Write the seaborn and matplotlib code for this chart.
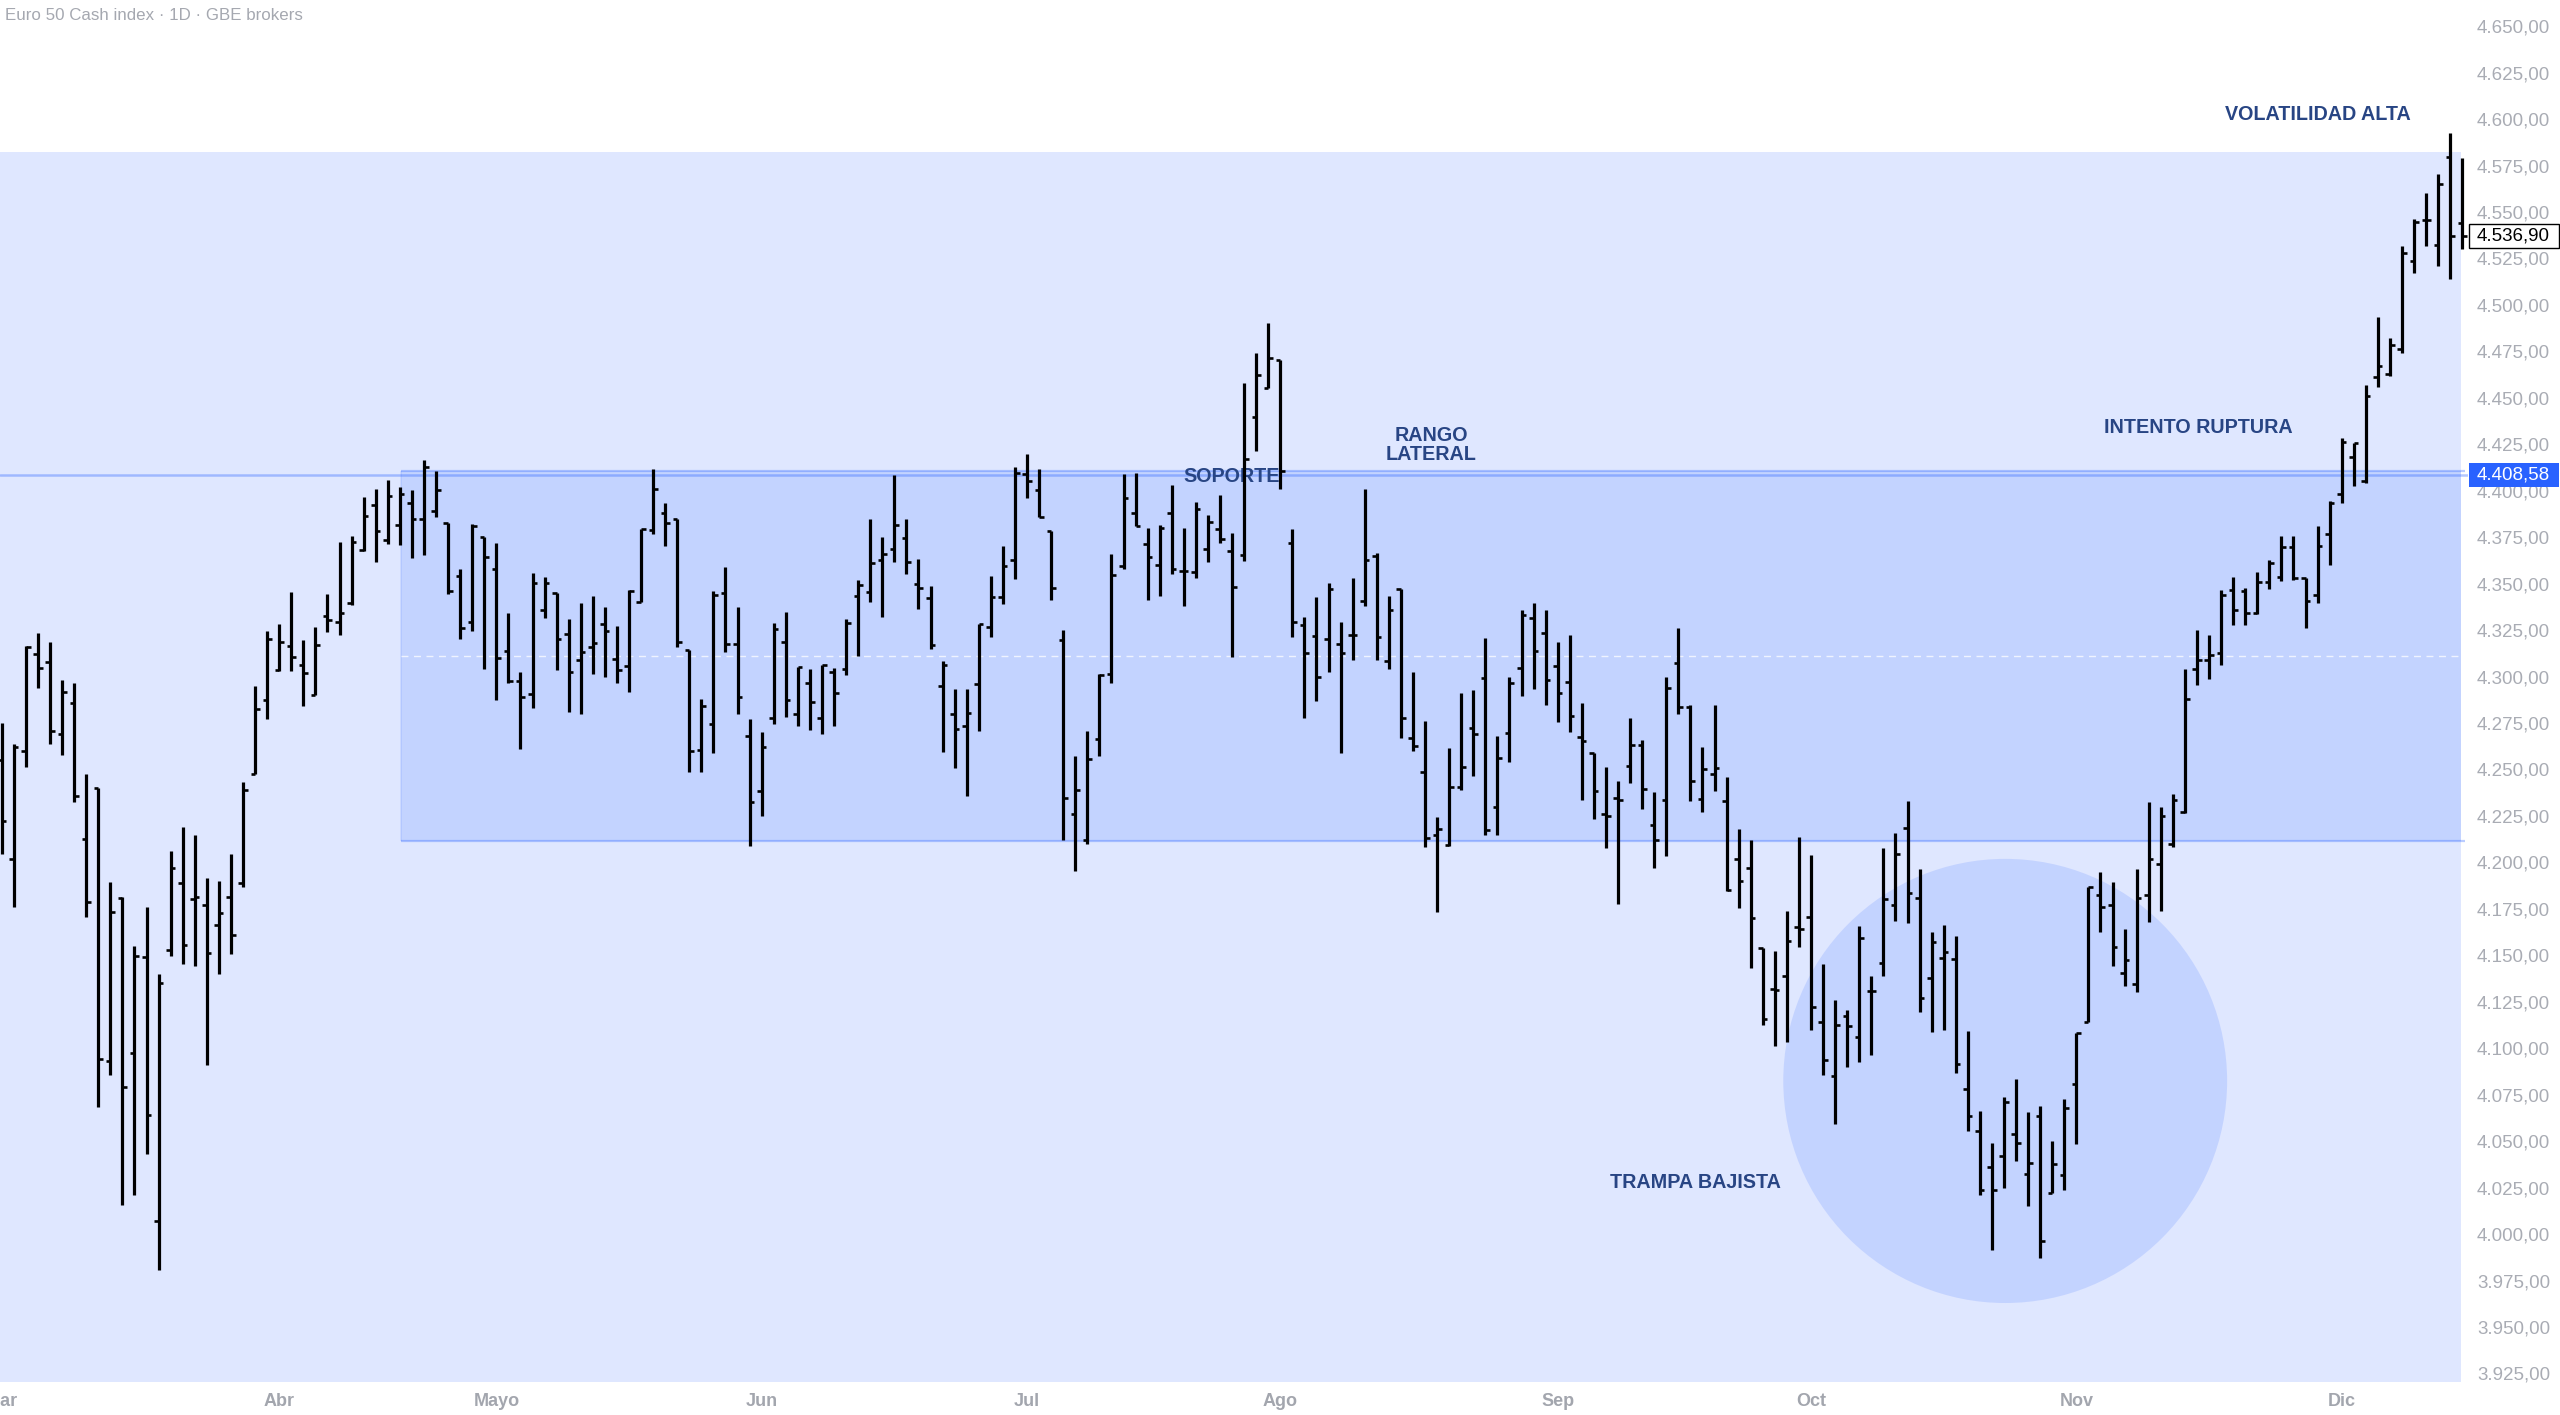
#!/usr/bin/env python3
# -*- coding: utf-8 -*-

"""
Gráfico de barras OHLC del Euro 50 (diario) con zonas de rango lateral.
"""

import numpy as np
import pandas as pd
import matplotlib
matplotlib.use("Agg")
import matplotlib.pyplot as plt
import matplotlib.transforms as mtransforms
from matplotlib.patches import Rectangle, Ellipse
import seaborn as sns

# Datos diarios (lectura aproximada del gráfico)
START = "2023-03-01"
END = "2023-12-15"
HOLIDAYS = ["2023-04-07", "2023-04-10", "2023-05-01"]
MONTHS = ["Mar", "Abr", "Mayo", "Jun", "Jul", "Ago", "Sep", "Oct", "Nov", "Dic"]

OPEN = [
    4255.0, 4201.9, 4260.0, 4312.4, 4308.1, 4269.1, 4286.0, 4212.5, 4240.3, 4093.3,
    4180.8, 4097.6, 4149.0, 4007.1, 4152.9, 4188.9, 4180.3, 4177.1, 4166.3, 4181.5,
    4189.1, 4247.7, 4287.3, 4303.6, 4316.3, 4306.1, 4290.1, 4332.6, 4329.5, 4339.4,
    4368.0, 4392.2, 4373.6, 4381.8, 4393.3, 4384.9, 4389.3, 4382.9, 4354.1, 4329.5,
    4374.9, 4357.7, 4313.8, 4297.8, 4290.6, 4335.6, 4345.1, 4322.7, 4308.9, 4316.1,
    4328.3, 4309.6, 4305.7, 4340.3, 4378.9, 4388.2, 4385.0, 4314.3, 4260.5, 4274.3,
    4344.8, 4317.5, 4268.0, 4238.6, 4277.9, 4318.8, 4279.7, 4296.7, 4277.5, 4302.6,
    4303.9, 4343.3, 4345.7, 4362.9, 4368.4, 4374.7, 4349.9, 4342.1, 4294.9, 4279.7,
    4273.6, 4296.1, 4326.9, 4342.7, 4362.9, 4409.1, 4400.4, 4378.1, 4319.8, 4226.3,
    4212.1, 4266.3, 4301.2, 4359.5, 4388.2, 4371.6, 4359.9, 4387.8, 4356.8, 4356.2,
    4368.6, 4379.5, 4367.6, 4365.5, 4439.9, 4455.2, 4470.3, 4371.8, 4327.7, 4321.8,
    4320.1, 4317.5, 4322.4, 4340.9, 4364.7, 4308.4, 4347.3, 4266.9, 4248.8, 4214.9,
    4209.6, 4240.5, 4272.4, 4299.4, 4229.6, 4269.6, 4304.7, 4331.3, 4323.5, 4305.8,
    4297.3, 4267.5, 4258.6, 4226.0, 4234.5, 4252.0, 4263.3, 4220.1, 4233.5, 4307.1,
    4283.4, 4234.2, 4247.3, 4233.0, 4202.0, 4197.1, 4153.7, 4131.8, 4138.7, 4165.2,
    4170.7, 4113.9, 4085.1, 4117.3, 4106.3, 4130.7, 4145.6, 4177.1, 4218.5, 4180.6,
    4138.0, 4148.8, 4147.9, 4078.2, 4055.7, 4036.2, 4041.9, 4054.1, 4032.3, 4063.8,
    4021.9, 4031.8, 4080.6, 4113.9, 4182.5, 4177.2, 4140.6, 4134.7, 4182.3, 4199.0,
    4210.1, 4226.9, 4303.9, 4308.9, 4312.7, 4346.8, 4346.2, 4334.1, 4350.8, 4353.5,
    4369.7, 4353.1, 4343.9, 4376.5, 4398.1, 4418.3, 4405.1, 4461.1, 4462.8, 4476.2,
    4523.5, 4545.6, 4532.4, 4579.5, 4543.9,
]

HIGH = [
    4275.1, 4263.6, 4316.5, 4323.4, 4318.4, 4298.4, 4296.5, 4247.5, 4240.3, 4189.2,
    4181.5, 4155.1, 4176.2, 4140.2, 4206.0, 4219.2, 4214.6, 4191.8, 4190.1, 4204.5,
    4243.2, 4294.8, 4324.3, 4328.3, 4345.3, 4319.7, 4326.5, 4344.2, 4372.3, 4375.9,
    4396.7, 4401.0, 4405.8, 4401.9, 4400.6, 4416.7, 4410.5, 4382.9, 4357.7, 4381.9,
    4375.3, 4371.7, 4334.0, 4302.6, 4355.9, 4353.8, 4345.1, 4331.0, 4339.8, 4343.5,
    4337.3, 4327.4, 4346.6, 4379.4, 4411.5, 4393.2, 4385.0, 4314.3, 4287.7, 4346.2,
    4359.1, 4337.6, 4277.0, 4270.0, 4329.0, 4334.9, 4305.0, 4303.9, 4306.2, 4304.8,
    4331.0, 4351.8, 4384.8, 4375.1, 4408.5, 4384.8, 4363.5, 4348.7, 4308.2, 4293.1,
    4293.1, 4328.1, 4354.2, 4370.0, 4412.5, 4419.6, 4411.5, 4378.1, 4324.9, 4257.2,
    4270.8, 4301.2, 4366.0, 4409.1, 4409.5, 4380.1, 4381.7, 4403.0, 4379.7, 4393.9,
    4386.8, 4397.9, 4377.5, 4457.9, 4474.3, 4490.3, 4470.3, 4379.2, 4332.0, 4343.0,
    4350.1, 4329.6, 4353.3, 4401.1, 4366.7, 4343.5, 4347.3, 4302.6, 4276.0, 4224.5,
    4261.6, 4291.3, 4293.0, 4320.7, 4268.0, 4299.8, 4335.6, 4339.4, 4336.0, 4318.6,
    4322.2, 4286.0, 4259.0, 4251.6, 4243.7, 4277.7, 4266.0, 4237.7, 4299.8, 4325.9,
    4284.7, 4262.2, 4284.7, 4246.1, 4217.8, 4212.3, 4153.7, 4152.3, 4173.7, 4213.5,
    4204.0, 4145.4, 4125.8, 4120.8, 4165.6, 4138.7, 4207.7, 4215.8, 4233.0, 4196.7,
    4162.6, 4166.3, 4160.6, 4109.3, 4066.0, 4048.8, 4073.6, 4083.3, 4065.6, 4069.0,
    4050.2, 4072.5, 4108.1, 4187.0, 4194.8, 4189.6, 4164.0, 4196.5, 4232.7, 4230.0,
    4236.9, 4303.9, 4324.8, 4322.1, 4346.6, 4353.5, 4347.9, 4356.0, 4362.5, 4375.5,
    4375.5, 4353.3, 4381.0, 4394.3, 4428.6, 4425.8, 4457.0, 4493.5, 4482.0, 4531.9,
    4546.3, 4560.1, 4570.4, 4592.5, 4578.8,
]

LOW = [
    4204.3, 4175.9, 4251.6, 4293.6, 4263.6, 4257.8, 4232.4, 4170.7, 4068.6, 4085.4,
    4015.5, 4021.0, 4042.9, 3980.9, 4149.8, 4145.2, 4144.2, 4090.9, 4139.9, 4150.7,
    4186.8, 4247.7, 4276.9, 4303.2, 4303.2, 4284.0, 4290.1, 4324.0, 4322.4, 4338.5,
    4367.7, 4361.6, 4371.6, 4370.9, 4363.7, 4365.5, 4385.9, 4344.6, 4320.0, 4324.5,
    4304.1, 4287.4, 4296.7, 4260.8, 4283.3, 4331.7, 4303.5, 4280.8, 4279.7, 4301.2,
    4300.0, 4296.7, 4291.5, 4339.9, 4376.7, 4370.3, 4315.7, 4248.5, 4248.8, 4258.7,
    4313.2, 4279.7, 4209.0, 4225.0, 4274.5, 4278.4, 4273.6, 4271.2, 4269.1, 4273.4,
    4300.8, 4311.1, 4340.2, 4331.9, 4361.9, 4355.4, 4336.6, 4314.7, 4259.3, 4250.9,
    4235.8, 4270.8, 4321.4, 4339.0, 4352.4, 4396.3, 4385.6, 4341.2, 4212.1, 4195.5,
    4210.1, 4257.2, 4296.7, 4357.8, 4381.1, 4341.0, 4343.1, 4355.2, 4338.0, 4352.8,
    4361.9, 4372.0, 4310.3, 4362.2, 4421.3, 4455.2, 4400.9, 4321.1, 4277.5, 4286.7,
    4302.2, 4258.6, 4309.0, 4337.7, 4309.0, 4304.3, 4266.9, 4260.1, 4208.4, 4173.5,
    4208.6, 4239.2, 4246.7, 4215.0, 4215.0, 4254.1, 4289.4, 4293.5, 4284.5, 4275.4,
    4270.1, 4233.5, 4223.5, 4207.5, 4177.5, 4242.6, 4228.6, 4196.9, 4203.7, 4280.1,
    4233.0, 4227.0, 4238.5, 4184.7, 4175.5, 4143.1, 4112.3, 4101.3, 4103.5, 4154.6,
    4109.7, 4085.6, 4059.4, 4089.7, 4092.5, 4096.2, 4138.7, 4168.4, 4167.2, 4119.6,
    4108.8, 4109.7, 4086.7, 4055.7, 4021.2, 3991.3, 4024.9, 4039.1, 4015.0, 3987.0,
    4021.9, 4023.7, 4048.3, 4113.9, 4162.4, 4144.2, 4133.7, 4130.1, 4167.8, 4174.1,
    4208.4, 4226.4, 4295.3, 4298.7, 4306.4, 4328.0, 4327.8, 4333.6, 4347.2, 4351.4,
    4352.1, 4326.2, 4339.5, 4360.2, 4393.3, 4402.7, 4403.9, 4455.6, 4461.8, 4474.3,
    4517.1, 4531.9, 4520.7, 4513.9, 4530.3,
]

CLOSE = [
    4222.3, 4261.9, 4315.7, 4304.4, 4270.8, 4291.7, 4235.5, 4178.8, 4094.3, 4173.3,
    4079.4, 4149.8, 4064.2, 4135.1, 4196.8, 4155.5, 4181.2, 4151.0, 4172.6, 4161.0,
    4239.1, 4282.4, 4320.4, 4318.6, 4310.4, 4301.8, 4317.0, 4330.6, 4334.0, 4372.3,
    4386.5, 4378.2, 4397.4, 4398.5, 4384.9, 4413.0, 4400.6, 4346.0, 4326.3, 4381.0,
    4364.5, 4310.2, 4297.6, 4289.0, 4350.5, 4350.2, 4320.0, 4302.6, 4313.2, 4318.2,
    4324.5, 4303.5, 4346.2, 4379.2, 4400.8, 4382.8, 4318.6, 4260.1, 4284.3, 4343.9,
    4317.5, 4288.8, 4232.7, 4261.9, 4325.6, 4287.4, 4305.0, 4286.3, 4306.2, 4291.3,
    4328.6, 4349.4, 4360.9, 4365.7, 4381.7, 4361.5, 4347.5, 4316.8, 4306.2, 4271.8,
    4280.3, 4328.1, 4342.7, 4359.5, 4409.5, 4405.4, 4385.6, 4347.7, 4234.8, 4239.0,
    4255.6, 4300.8, 4354.8, 4396.3, 4381.1, 4364.5, 4380.1, 4357.8, 4356.8, 4390.2,
    4383.2, 4374.0, 4348.3, 4416.9, 4462.2, 4471.6, 4410.5, 4329.2, 4312.6, 4299.8,
    4346.9, 4312.6, 4322.4, 4362.8, 4321.1, 4335.6, 4277.5, 4262.6, 4213.2, 4218.2,
    4240.5, 4251.1, 4269.0, 4217.5, 4256.2, 4296.7, 4333.0, 4313.9, 4298.4, 4290.9,
    4278.8, 4265.4, 4238.4, 4224.9, 4233.5, 4263.3, 4239.4, 4212.2, 4294.1, 4283.4,
    4243.8, 4250.0, 4250.7, 4185.2, 4189.8, 4170.2, 4115.7, 4131.1, 4157.6, 4164.0,
    4122.4, 4093.6, 4112.7, 4112.0, 4159.2, 4130.7, 4180.1, 4204.7, 4183.6, 4127.0,
    4156.9, 4151.8, 4091.3, 4063.8, 4023.7, 4023.7, 4070.9, 4049.0, 4038.0, 3996.1,
    4037.5, 4067.9, 4108.1, 4186.9, 4176.0, 4154.6, 4147.3, 4180.8, 4201.7, 4224.8,
    4233.6, 4288.0, 4309.1, 4311.7, 4343.7, 4335.7, 4334.1, 4350.8, 4361.3, 4369.7,
    4352.9, 4340.5, 4370.3, 4393.3, 4426.2, 4425.5, 4451.0, 4467.1, 4478.6, 4527.9,
    4544.7, 4545.6, 4565.1, 4537.2, 4536.9,
]

# Niveles de las zonas dibujadas
LINE_LEVEL = 4408.58
RANGE_TOP = 4410.8
RANGE_BOTTOM = 4211.5
ZONE_TOP = 4582.3


def fmt_price(v):
    """Formato europeo: 4.650,00"""
    s = f"{v:,.2f}"
    return s.replace(",", "X").replace(".", ",").replace("X", ".")


# Calendario de sesiones
days = pd.bdate_range(START, END)
days = days[~days.isin(pd.to_datetime(HOLIDAYS))]
df = pd.DataFrame({"open": OPEN, "high": HIGH, "low": LOW, "close": CLOSE}, index=days)
df["x"] = np.arange(len(df))
month_pos = df.groupby(df.index.to_period("M"))["x"].first().values

sns.set_theme(style="white")
plt.rcParams["font.family"] = ["Liberation Sans", "DejaVu Sans"]

W, H = 2560, 1415
fig = plt.figure(figsize=(W / 100, H / 100), dpi=100)
fig.patch.set_facecolor("white")
ax = fig.add_axes([0, 1 - 1382 / H, 2468 / W, 1382 / H])
ax.set_facecolor("white")
for s in ax.spines.values():
    s.set_visible(False)

ax.set_xlim(-0.15, 204.47)
ax.set_ylim(3920.4, 4664.06)

blue = (41 / 255, 98 / 255, 1.0)
fill = blue + (0.15,)
edge = blue + (0.32,)
x_start = 33.1
x_end = 203.9

# Zonas sombreadas
ax.add_patch(Rectangle((-5, 3800), x_end + 5, ZONE_TOP - 3800,
                       facecolor=fill, edgecolor="none", zorder=1))
ax.add_patch(Rectangle((x_start, RANGE_BOTTOM), x_end - x_start, RANGE_TOP - RANGE_BOTTOM,
                       facecolor=fill, edgecolor="none", zorder=1.2))
ax.hlines([RANGE_TOP, RANGE_BOTTOM], x_start, x_end + 0.3, colors=[edge], linewidth=1.6, zorder=1.4)
ax.vlines(x_start, RANGE_BOTTOM, RANGE_TOP, colors=[blue + (0.12,)], linewidth=1.2, zorder=1.4)
ax.add_patch(Ellipse((166.1, 4082.4), 36.8, 239.0,
                     facecolor=fill, edgecolor="none", zorder=1.2))
ax.axhline(LINE_LEVEL, color=blue + (0.35,), linewidth=1.8, zorder=1.5)
ax.hlines((RANGE_TOP + RANGE_BOTTOM) / 2, x_start, x_end, colors=[(1, 1, 1, 0.75)],
          linewidth=1.0, linestyles=[(0, (5, 4))], zorder=1.5)

# Barras OHLC
x = df["x"].values
tick = 0.38
ax.vlines(x, df["low"], df["high"], colors="black", linewidth=2.3, zorder=4)
ax.hlines(df["open"], x - tick, x, colors="black", linewidth=1.9, zorder=4)
ax.hlines(df["close"], x, x + tick, colors="black", linewidth=1.9, zorder=4)

# Ejes
ax.yaxis.tick_right()
yt = np.arange(3925, 4651, 25)
ax.set_yticks(yt)
ax.set_yticklabels([fmt_price(v) for v in yt])
ax.tick_params(axis="y", length=0, pad=6.5, labelsize=13.5, labelcolor="#a9acb4")
ax.set_xticks(month_pos)
ax.set_xticklabels(MONTHS, fontweight="bold")
ax.tick_params(axis="x", length=0, pad=8, labelsize=13, labelcolor="#a3a6ae")
ax.grid(False)

# Textos de anotación
note = dict(color="#284584", fontsize=14.2, fontweight="bold", ha="center", va="center", zorder=3)
ax.text(192.0, 4602.5, "VOLATILIDAD ALTA", **note)
ax.text(102.0, 4407.5, "SOPORTE", **note)
ax.text(118.5, 4424.6, "RANGO\nLATERAL", linespacing=1.0, **note)
ax.text(182.1, 4433.8, "INTENTO RUPTURA", **note)
ax.text(140.4, 4027.9, "TRAMPA BAJISTA", **note)

# Etiquetas de precio en la escala
trans = mtransforms.blended_transform_factory(ax.transAxes, ax.transData)
box_w = 2558 / 2468 - 1.0
box_h = 24 * (4664.06 - 3920.4) / 1382
last = CLOSE[-1]
ax.add_patch(Rectangle((1.0005, LINE_LEVEL - box_h / 2), box_w, box_h, transform=trans,
                       facecolor="#2962ff", edgecolor="none", clip_on=False, zorder=6))
ax.text(2477 / 2468, LINE_LEVEL, fmt_price(LINE_LEVEL), transform=trans, color="white",
        fontsize=13.5, ha="left", va="center", clip_on=False, zorder=7)
ax.add_patch(Rectangle((1.0005, last - box_h / 2), box_w, box_h, transform=trans,
                       facecolor="white", edgecolor="black", linewidth=1.0,
                       clip_on=False, zorder=6))
ax.text(2477 / 2468, last, fmt_price(last), transform=trans, color="black",
        fontsize=13.5, ha="left", va="center", clip_on=False, zorder=7)

fig.text(5 / W, 1 - 16 / H, "Euro 50 Cash index · 1D · GBE brokers",
         color="#a5a8b0", fontsize=12.2, ha="left", va="center")

fig.savefig("out.png", dpi=100, facecolor="white")
